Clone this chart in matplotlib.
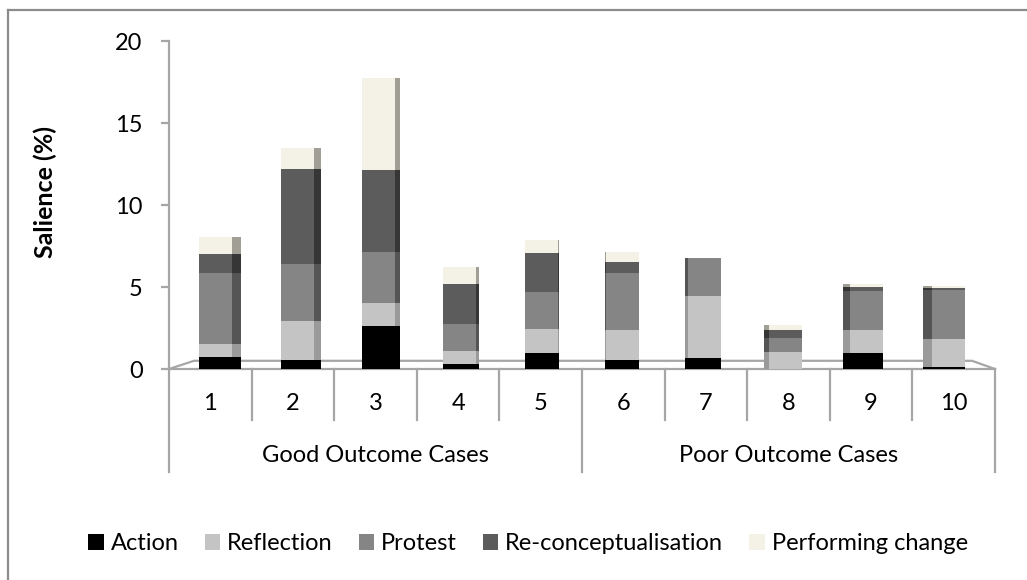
import matplotlib
matplotlib.use('Agg')
import matplotlib.pyplot as plt
from matplotlib.patches import Patch
from matplotlib.lines import Line2D

plt.rcParams['font.family'] = ['Lato', 'DejaVu Sans']

cases = ['1', '2', '3', '4', '5', '6', '7', '8', '9', '10']
groups = ['Good Outcome Cases', 'Poor Outcome Cases']
group_size = [5, 5]
series = ['Action', 'Reflection', 'Protest', 'Re-conceptualisation', 'Performing change']
action = [0.75, 0.55, 2.65, 0.3, 1.0, 0.55, 0.68, 0.0, 1.0, 0.1]
reflection = [0.75, 2.35, 1.4, 0.8, 1.45, 1.85, 3.75, 1.05, 1.4, 1.7]
protest = [4.35, 3.5, 3.1, 1.65, 2.25, 3.45, 2.35, 0.85, 2.35, 3.0]
reconc = [1.15, 5.8, 5.0, 2.45, 2.4, 0.7, 0.0, 0.5, 0.25, 0.12]
perform = [1.05, 1.3, 5.6, 1.05, 0.75, 0.6, 0.0, 0.3, 0.2, 0.12]

front_col = ['#000000', '#c4c4c4', '#858585', '#5c5c5c', '#f4f2e7']
side_col = ['#000000', '#9a9a9a', '#555555', '#363636', '#a09e95']
grid_col = '#a6a6a6'

W, H = 1027, 580
fig = plt.figure(figsize=(W / 100, H / 100), dpi=100)
# axes: x from 169 to 995 px, y0 at 369 px, y20 at 41 px
ax = fig.add_axes([169 / W, (H - 369) / H, (995 - 169) / W, (369 - 41) / H])
ax.set_xlim(0.5, 10.5)
ax.set_ylim(0, 20)
ax.patch.set_alpha(0)

x = list(range(1, len(cases) + 1))
fw = 0.40
px = 1 / 82.6  # one pixel in x data units
bottom = [0.0] * len(cases)
for vals, fc, sc in zip([action, reflection, protest, reconc, perform], front_col, side_col):
    for i, v in enumerate(vals):
        if v <= 0:
            continue
        shift = (4.5 - i) * 1.2 * px
        side = (4.5 - i) * 2.0 * px
        xc = x[i] + shift
        ax.bar(xc, v, width=fw, bottom=bottom[i], color=fc, linewidth=0, zorder=3)
        if abs(side) > 0.3 * px:
            if side > 0:
                xs = xc + fw / 2 + side / 2
            else:
                xs = xc - fw / 2 + side / 2
            ax.bar(xs, v, width=abs(side), bottom=bottom[i], color=sc, linewidth=0, zorder=3)
    bottom = [b + v for b, v in zip(bottom, vals)]

for s in ['top', 'right', 'bottom']:
    ax.spines[s].set_visible(False)
ax.spines['left'].set_color(grid_col)
ax.spines['left'].set_linewidth(1.6)
ax.set_yticks([0, 5, 10, 15, 20])
ax.tick_params(axis='y', length=6, width=1.6, color=grid_col, pad=13, labelsize=17)
ax.set_xticks([])

# floor
dy = 0.5
dx0 = 25 * px
dx1 = 23 * px
floor_x = [0.5, 0.5 + dx0, 10.5 - dx1, 10.5]
floor_y = [0, dy, dy, 0]
ax.plot(floor_x, floor_y, color=grid_col, lw=1.6, zorder=2, clip_on=False)
ax.plot([0.5, 10.5], [0, 0], color=grid_col, lw=1.6, zorder=2, clip_on=False)

# category axis (two-level)
tr = ax.get_xaxis_transform()
def fy(ypix):
    return (369 - ypix) / (369 - 41)

for i, c in enumerate(cases):
    ax.text(x[i], fy(404), c, transform=tr, ha='center', va='center', fontsize=17)
for b in range(1, len(cases)):
    if b == group_size[0]:
        continue
    ax.add_line(Line2D([b + 0.5, b + 0.5], [fy(369), fy(420)], transform=tr,
                       color=grid_col, lw=1.6, clip_on=False))
start = 0.5
edges = [start]
for gname, gs in zip(groups, group_size):
    ax.text(start + gs / 2, fy(456), gname, transform=tr, ha='center', va='center', fontsize=17)
    start += gs
    edges.append(start)
for e in edges:
    ax.add_line(Line2D([e, e], [fy(369), fy(472)], transform=tr,
                       color=grid_col, lw=1.6, clip_on=False))

fig.text(45 / W, 1 - 192 / H, 'Salience (%)', rotation=90, ha='center', va='center',
         fontsize=18, fontweight='bold')

handles = [Patch(facecolor=c, edgecolor='none') for c in front_col]
fig.legend(handles, series, loc='center', bbox_to_anchor=(528 / W, 1 - 544 / H), ncol=5,
           frameon=False, fontsize=17, handlelength=0.65, handleheight=0.65,
           handletextpad=0.3, columnspacing=1.1, borderpad=0)

# outer chart border (left and top visible)
fig.add_artist(Line2D([8 / W, 8 / W], [0, 1 - 10 / H], transform=fig.transFigure, color='#8c8c8c', lw=1.6))
fig.add_artist(Line2D([8 / W, 1], [1 - 10 / H, 1 - 10 / H], transform=fig.transFigure, color='#8c8c8c', lw=1.6))

fig.savefig('out.png', dpi=100)
